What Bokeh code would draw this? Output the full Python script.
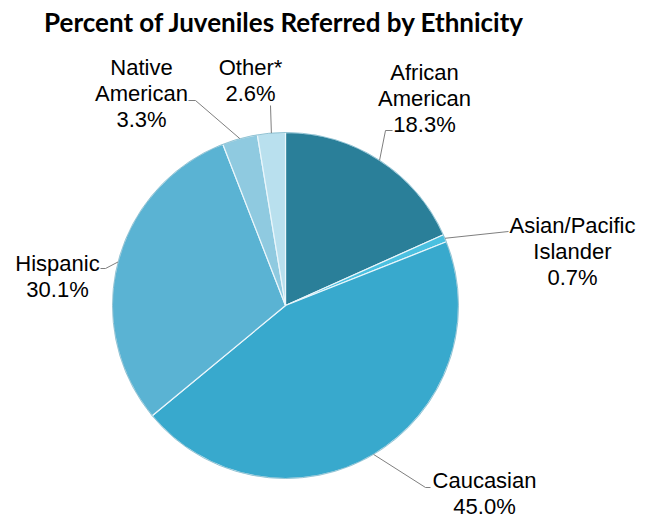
import math
from bokeh.plotting import figure
from bokeh.models import Range1d, ColumnDataSource
from bokeh.core.properties import value
from bokeh.embed import file_html
from bokeh.resources import INLINE

# ---- data ----
categories = ["African American", "Asian/Pacific Islander", "Caucasian", "Hispanic", "Native American", "Other*"]
label_lines = [["African", "American"], ["Asian/Pacific", "Islander"], ["Caucasian"], ["Hispanic"], ["Native", "American"], ["Other*"]]
percents = [18.3, 0.7, 45.0, 30.1, 3.3, 2.6]
colors = ["#2a7f99", "#4bc0e0", "#38a9cd", "#5ab3d3", "#8fcae0", "#b9e0ee"]
title_text = "Percent of Juveniles Referred by Ethnicity"

# ---- layout (image coordinates, y down) ----
W, H = 648, 518
CX, CY, R = 285, 305, 173
# label block: (center x, first line y)
label_pos = [(424, 72), (572, 225), (484, 480), (57, 263), (141, 67), (250, 67)]
# elbow points of the leader lines from label toward pie
leader_pts = [
    [(392, 130), (385, 130)],
    [(508, 231)],
    [(430, 487), (425, 487)],
    [(100, 268), (105, 268)],
    [(188, 100), (195, 100)],
    [(270, 105)],
]
LINE_H = 26

def fy(y):
    return H - y

p = figure(width=W, height=H, output_backend="svg", toolbar_location=None,
           x_range=Range1d(0, W), y_range=Range1d(0, H), min_border=0)
p.axis.visible = False
p.grid.visible = False
p.outline_line_color = None
p.background_fill_color = "white"
p.border_fill_color = "white"

total = sum(percents)
cum = 0.0
starts, ends, mids = [], [], []
for v in percents:
    a0 = math.pi / 2 - 2 * math.pi * cum / total
    a1 = math.pi / 2 - 2 * math.pi * (cum + v) / total
    starts.append(a0)
    ends.append(a1)
    mids.append(math.pi / 2 - 2 * math.pi * (cum + v / 2) / total)
    cum += v

src = ColumnDataSource(dict(start=starts, end=ends, color=colors, cat=categories))
p.wedge(x=CX, y=fy(CY), radius=R, start_angle="start", end_angle="end", direction="clock",
        fill_color="color", line_color="#eaf6fb", line_width=1.2, source=src)
# outer rim
p.circle(x=CX, y=fy(CY), radius=R, fill_color=None, line_color="#3a8fab", line_width=1, line_alpha=0.5)

# leader lines
for i, m in enumerate(mids):
    ax = CX + R * math.cos(m)
    ay = fy(CY) + R * math.sin(m)
    xs = [pt[0] for pt in leader_pts[i]] + [ax]
    ys = [fy(pt[1]) for pt in leader_pts[i]] + [ay]
    p.line(xs, ys, line_color="#7f7f7f", line_width=1)

# labels
for i, cat in enumerate(categories):
    lx, ly = label_pos[i]
    lines = label_lines[i] + ["%.1f%%" % percents[i]]
    for k, t in enumerate(lines):
        p.text(x=[lx], y=[fy(ly + k * LINE_H)], text=[t], text_align="center", text_baseline="middle",
               text_font=value("Liberation Sans"), text_font_size="22px", text_color="#000000")

# title
p.text(x=[284], y=[fy(21)], text=[title_text], text_align="center", text_baseline="middle",
       text_font=value("Lato"), text_font_style="bold", text_font_size="26px", text_color="#000000")

open("out.html", "w").write(file_html(p, INLINE))
